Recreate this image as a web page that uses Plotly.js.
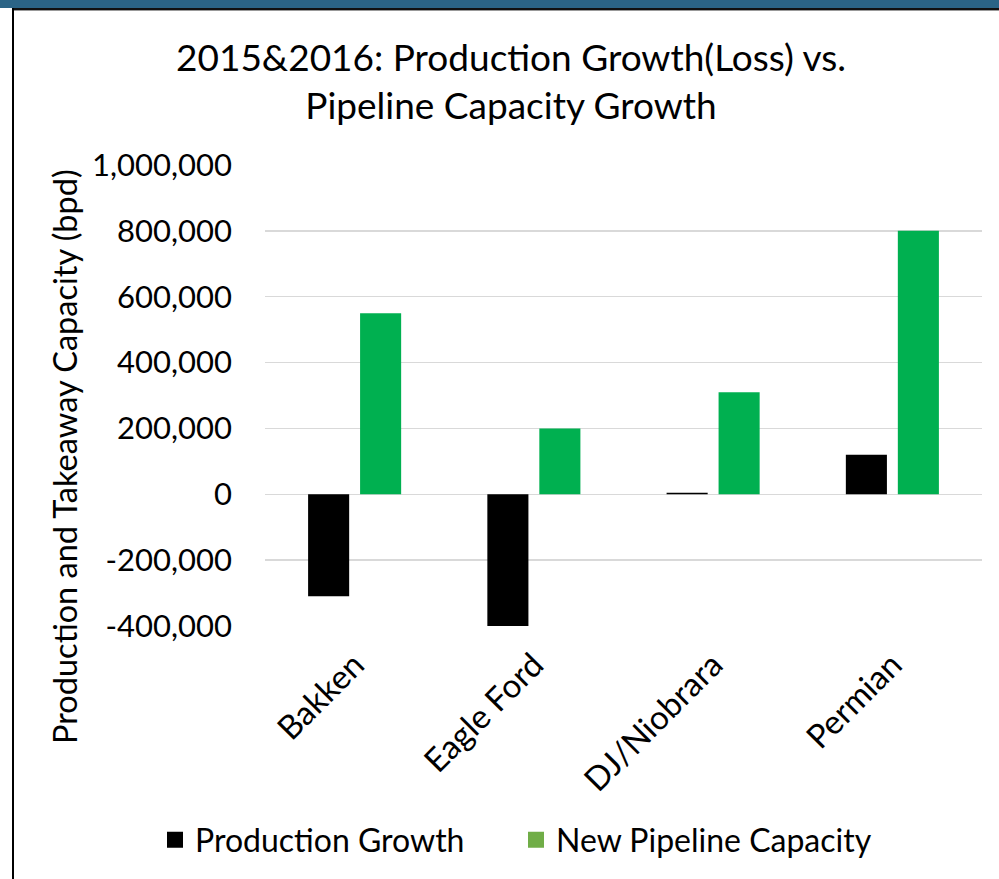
<!DOCTYPE html>
<html>
<head>
<meta charset="utf-8">
<script src="https://cdn.plot.ly/plotly-3.0.1.min.js"></script>
<style>
  html, body { margin: 0; padding: 0; background: #fff; }
  #wrap { position: relative; width: 999px; height: 879px; overflow: hidden; }
  #chart { position: absolute; left: 0; top: 0; width: 999px; height: 879px; }
  #topbar { position: absolute; left: 0; top: 0; width: 999px; height: 8px; background: #2B6486; z-index: 5; }
  #topline { position: absolute; left: 12px; top: 8px; width: 987px; height: 2px; background: #111; z-index: 5; }
  #topline2 { position: absolute; left: 12px; top: 10px; width: 987px; height: 1px; background: #999; z-index: 5; }
  #leftline { position: absolute; left: 12px; top: 8px; width: 2px; height: 871px; background: #000; z-index: 5; }
</style>
</head>
<body>
<div id="wrap">
  <div id="chart"></div>
  <div id="topbar"></div>
  <div id="topline"></div>
  <div id="topline2"></div>
  <div id="leftline"></div>
</div>
<script>
const categories = ["Bakken", "Eagle Ford", "DJ/Niobrara", "Permian"];
const productionGrowth = [-310000, -405000, 5000, 120000];
const newPipelineCapacity = [550000, 200000, 310000, 800000];
const tickValues = [-400000, -200000, 0, 200000, 400000, 600000, 800000, 1000000];
const tickLabels = ["-400,000", "-200,000", "0", "200,000", "400,000", "600,000", "800,000", "1,000,000"];
const seriesNames = ["Production Growth", "New Pipeline Capacity"];
const titleText = "2015&2016: Production Growth(Loss) vs.<br>Pipeline Capacity Growth";
const yTitleText = "Production and Takeaway Capacity (bpd)";

const FONT = "Lato, 'Open Sans', sans-serif";
const nulls = categories.map(() => null);

const traces = [
  { type: "bar", x: categories, y: productionGrowth, name: seriesNames[0],
    marker: { color: "#000000" }, showlegend: false, hoverinfo: "x+y" },
  { type: "bar", x: categories, y: newPipelineCapacity, name: seriesNames[1],
    marker: { color: "#00B050" }, showlegend: false, hoverinfo: "x+y" },
  { type: "scatter", mode: "markers", x: categories, y: nulls, name: seriesNames[0],
    marker: { color: "#000000", symbol: "square", size: 22 }, showlegend: true },
  { type: "scatter", mode: "markers", x: categories, y: nulls, name: seriesNames[1],
    marker: { color: "#70AD47", symbol: "square", size: 22 }, showlegend: true }
];

const layout = {
  width: 999, height: 879,
  margin: { l: 265, r: 17, t: 165, b: 253 },
  paper_bgcolor: "#ffffff", plot_bgcolor: "#ffffff",
  font: { family: FONT, color: "#000000", size: 31 },
  barmode: "group",
  bargap: 0.42,
  bargroupgap: 0.21,
  title: {
    text: titleText,
    font: { family: FONT, size: 37, color: "#000000" },
    x: 511 / 999, xanchor: "center", xref: "container",
    y: 0.919, yanchor: "middle", yref: "container"
  },
  xaxis: {
    type: "category",
    tickangle: -45,
    tickfont: { family: FONT, size: 33, color: "#000000" },
    ticklabelstandoff: 12,
    showgrid: false, showline: false, zeroline: false, ticks: ""
  },
  yaxis: {
    range: [-400000, 1000000],
    tickvals: tickValues, ticktext: tickLabels,
    tickfont: { family: FONT, size: 31, color: "#000000" },
    ticklabelstandoff: 32,
    showgrid: true, gridcolor: "#D9D9D9", gridwidth: 1.5,
    zeroline: true, zerolinecolor: "#D9D9D9", zerolinewidth: 1.5,
    showline: false, ticks: ""
  },
  legend: {
    orientation: "h",
    x: (155 - 265) / 717, xanchor: "left",
    y: -0.464, yanchor: "middle",
    font: { family: FONT, size: 32, color: "#000000" },
    bgcolor: "rgba(0,0,0,0)",
    itemsizing: "trace",
    entrywidth: 316, entrywidthmode: "pixels",
    itemclick: false, itemdoubleclick: false
  },
  annotations: [{
    text: yTitleText, textangle: -90,
    xref: "paper", yref: "paper",
    x: (64 - 265) / 717, y: (626 - 457) / 461,
    xanchor: "center", yanchor: "middle",
    showarrow: false,
    font: { family: FONT, size: 32.5, color: "#000000" }
  }]
};

Plotly.newPlot("chart", traces, layout, { displayModeBar: false, staticPlot: true });
</script>
</body>
</html>
